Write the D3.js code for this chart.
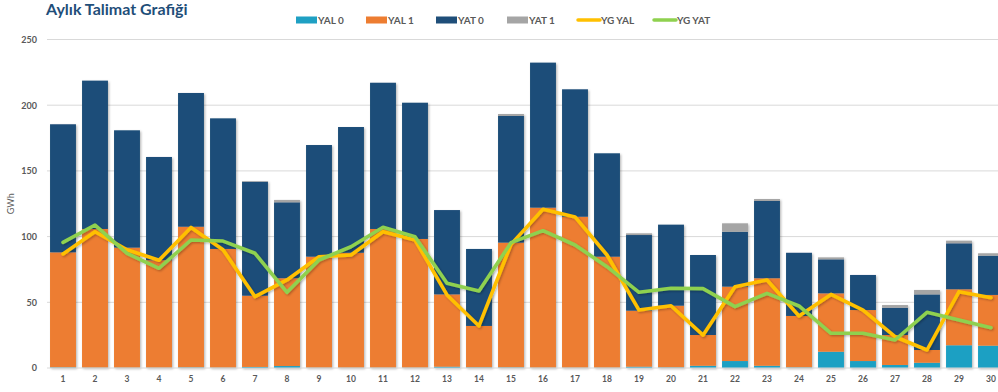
<!DOCTYPE html>
<html>
<head>
<meta charset="utf-8">
<script src="https://cdn.jsdelivr.net/npm/d3@7/dist/d3.min.js"></script>
<style>
  html, body { margin: 0; padding: 0; background: #fff; }
  svg { display: block; font-family: "Lato", "Open Sans", sans-serif; }
</style>
</head>
<body>
<svg id="chart" width="998" height="392"></svg>
<script>
// Days of the month
const days = d3.range(1, 31).map(String);

// Stacked bar components (GWh)
const yal0 = [0.5, 0.3, 0.3, 0.3, 0.5, 0.3, 0.8, 1.5, 0.3, 0.3,
              0.3, 0.3, 1.0, 0.5, 0.5, 0.3, 0.3, 0.3, 1.0, 0.5,
              1.7, 5.3, 1.7, 0.5, 12.4, 5.3, 2.3, 4.0, 17.3, 17.0];
const yal1 = [87.5, 105.5, 91.3, 81.7, 107.0, 90.3, 54.2, 66.8, 84.4, 87.4,
              105.5, 97.9, 55.0, 31.5, 94.9, 121.7, 114.8, 84.4, 42.6, 46.9,
              23.4, 56.6, 66.6, 39.1, 44.4, 38.8, 22.8, 9.7, 42.6, 38.6];
const yat0 = [97.5, 112.9, 89.3, 78.6, 101.8, 99.4, 86.8, 57.8, 85.0, 95.7,
              111.3, 103.7, 64.2, 58.6, 96.4, 110.4, 97.0, 78.7, 57.6, 61.7,
              60.9, 41.8, 58.8, 48.1, 25.9, 26.7, 20.8, 42.3, 35.0, 29.9];
const yat1 = [0, 0, 0, 0, 0, 0, 0.5, 1.8, 0, 0,
              0, 0, 0, 0, 1.5, 0, 0, 0, 1.3, 0,
              0, 6.4, 1.5, 0, 1.5, 0, 2.0, 3.4, 2.0, 1.8];

// Line series (GWh)
const ygYal = [86.8, 103.7, 90.0, 82.0, 107.0, 90.0, 54.3, 67.0, 84.7, 86.0,
               103.7, 97.4, 55.6, 32.0, 94.1, 120.8, 115.0, 86.0, 44.1, 47.4,
               25.0, 61.9, 67.0, 39.6, 56.0, 44.0, 23.8, 13.7, 58.1, 53.5];
const ygYat = [95.6, 108.8, 87.3, 75.9, 97.4, 96.6, 87.3, 57.6, 82.2, 92.3,
               107.1, 99.9, 64.5, 58.6, 95.4, 104.5, 93.6, 77.1, 57.6, 60.7,
               60.4, 46.7, 56.8, 47.2, 26.4, 26.4, 21.3, 42.4, 36.5, 30.7];

const yTicks = [0, 50, 100, 150, 200, 250];

const barKeys = ["YAL 0", "YAL 1", "YAT 0", "YAT 1"];
const barColors = { "YAL 0": "#1fa0c3", "YAL 1": "#ed7d31", "YAT 0": "#1f4e79", "YAT 1": "#a5a5a5" };
const lineSeries = [
  { name: "YG YAL", values: ygYal, color: "#ffc000" },
  { name: "YG YAT", values: ygYat, color: "#8fd14f" }
];

const rows = days.map((d, i) => ({
  day: d, "YAL 0": yal0[i], "YAL 1": yal1[i], "YAT 0": yat0[i], "YAT 1": yat1[i]
}));

const svg = d3.select("#chart");

const defs = svg.append("defs");
const shadow = defs.append("filter").attr("id", "shadow")
  .attr("x", "-20%").attr("y", "-20%").attr("width", "140%").attr("height", "140%");
shadow.append("feDropShadow")
  .attr("dx", 1.2).attr("dy", 1.2).attr("stdDeviation", 1)
  .attr("flood-color", "#000").attr("flood-opacity", 0.28);

const x = d3.scaleBand().domain(days).range([47, 1007]).paddingInner(0.19).paddingOuter(0.095);
const y = d3.scaleLinear().domain([0, 250]).range([368, 39.5]);

// Gridlines
svg.append("g")
  .selectAll("line")
  .data(yTicks.filter(t => t > 0))
  .join("line")
  .attr("x1", 47).attr("x2", 998)
  .attr("y1", d => y(d)).attr("y2", d => y(d))
  .attr("stroke", "#d9d9d9").attr("stroke-width", 1);

// Y axis
const yAxis = svg.append("g")
  .attr("transform", "translate(40,0)")
  .call(d3.axisLeft(y).tickValues(yTicks).tickSize(0).tickPadding(3));
yAxis.select(".domain").remove();
yAxis.selectAll("text")
  .attr("font-size", 9).attr("font-weight", "bold").attr("fill", "#595959")
  .attr("font-family", "Lato, 'Open Sans', sans-serif");

svg.append("text")
  .attr("transform", "translate(14," + y(125) + ") rotate(-90)")
  .attr("text-anchor", "middle")
  .attr("font-size", 9).attr("fill", "#595959")
  .text("GWh");

// Stacked bars
const stack = d3.stack().keys(barKeys)(rows);
svg.append("g").attr("filter", "url(#shadow)")
  .selectAll("g")
  .data(stack)
  .join("g")
  .attr("fill", d => barColors[d.key])
  .selectAll("rect")
  .data(d => d)
  .join("rect")
  .attr("x", d => x(d.data.day))
  .attr("width", x.bandwidth())
  .attr("y", d => y(d[1]))
  .attr("height", d => Math.max(0, y(d[0]) - y(d[1])));

// Baseline
svg.append("line")
  .attr("x1", 47).attr("x2", 998)
  .attr("y1", y(0)).attr("y2", y(0))
  .attr("stroke", "#d9d9d9").attr("stroke-width", 1);

// Lines
const line = d3.line()
  .x((d, i) => x(days[i]) + x.bandwidth() / 2)
  .y(d => y(d));
svg.append("g").attr("filter", "url(#shadow)")
  .selectAll("path")
  .data(lineSeries)
  .join("path")
  .attr("d", d => line(d.values))
  .attr("fill", "none")
  .attr("stroke", d => d.color)
  .attr("stroke-width", 3.6)
  .attr("stroke-linejoin", "round")
  .attr("stroke-linecap", "round");

// X axis labels
const xAxis = svg.append("g")
  .attr("transform", "translate(0," + y(0) + ")")
  .call(d3.axisBottom(x).tickSize(0).tickPadding(8));
xAxis.select(".domain").remove();
xAxis.selectAll("text")
  .attr("font-size", 8.5).attr("font-weight", "bold").attr("fill", "#595959")
  .attr("font-family", "Lato, 'Open Sans', sans-serif");

// Title
svg.append("text")
  .attr("x", 46).attr("y", 15)
  .attr("font-size", 16).attr("font-weight", "bold").attr("fill", "#1f4e79")
  .text("Aylık Talimat Grafiği");

// Legend
const legendItems = [
  { name: "YAL 0", type: "rect", color: barColors["YAL 0"] },
  { name: "YAL 1", type: "rect", color: barColors["YAL 1"] },
  { name: "YAT 0", type: "rect", color: barColors["YAT 0"] },
  { name: "YAT 1", type: "rect", color: barColors["YAT 1"] },
  { name: "YG YAL", type: "line", color: "#ffc000" },
  { name: "YG YAT", type: "line", color: "#8fd14f" }
];
const legendX = [296, 366, 436, 507, 577, 653];
const legend = svg.append("g")
  .selectAll("g")
  .data(legendItems)
  .join("g")
  .attr("transform", (d, i) => "translate(" + legendX[i] + ",20)");
legend.filter(d => d.type === "rect").append("rect")
  .attr("x", 0).attr("y", -3.5).attr("width", 21).attr("height", 7)
  .attr("fill", d => d.color);
legend.filter(d => d.type === "line").append("line")
  .attr("x1", 1).attr("x2", 23).attr("y1", 0).attr("y2", 0)
  .attr("stroke", d => d.color).attr("stroke-width", 3.5).attr("stroke-linecap", "round");
legend.append("text")
  .attr("x", d => d.type === "rect" ? 22 : 24)
  .attr("y", 3.5)
  .attr("font-size", 10).attr("font-weight", "bold").attr("fill", "#595959")
  .text(d => d.name);
</script>
</body>
</html>
